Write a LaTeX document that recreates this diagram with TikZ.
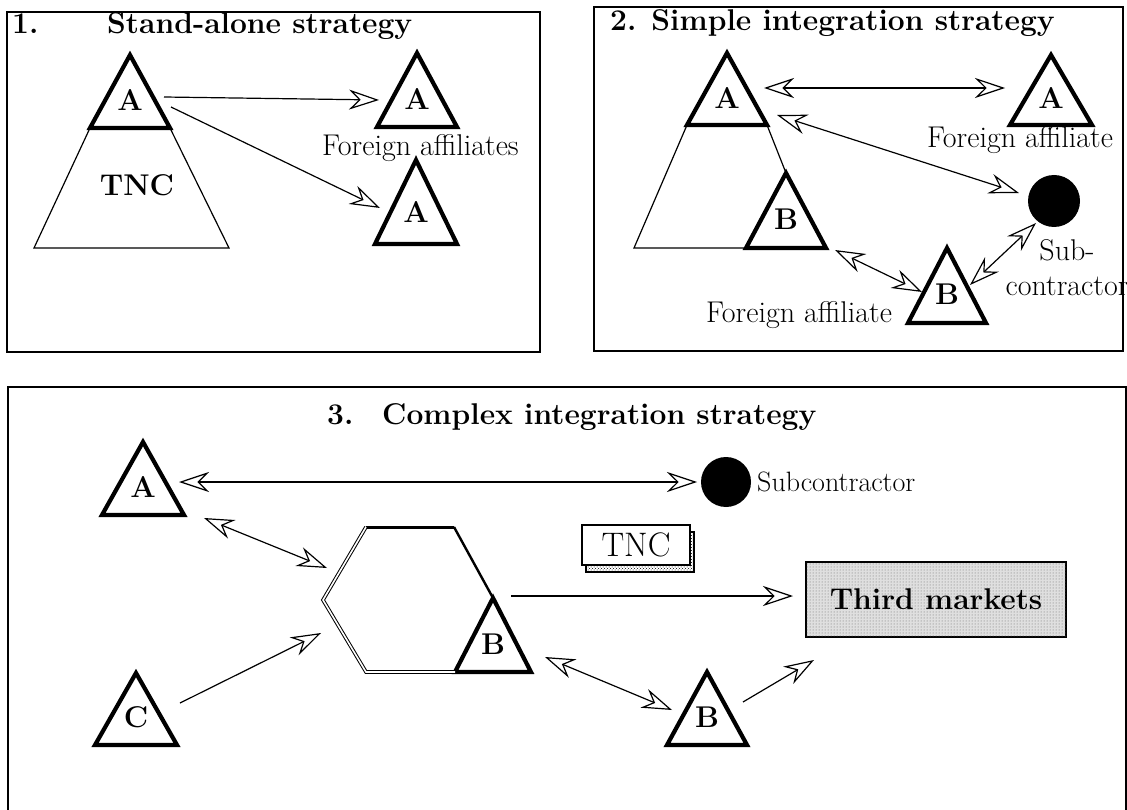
\documentclass[tikz,border=0pt]{standalone}
\usepackage{fontspec}
\usepackage{tikz}
\usetikzlibrary{calc,patterns,arrows.meta}

% triangle with a letter: name, apex x, apex y, half width, height, letter
\newcommand{\tribox}[6]{%
  \draw[trib] (#2,#3) coordinate (#1-t) -- ++(-#4,#5) coordinate (#1-l)
    -- ++(2*#4,0) coordinate (#1-r) -- cycle;
  \node[lab] (#1) at (#2,#3+0.62*#5) {#6};}

\begin{document}
\begin{tikzpicture}[x=1pt,y=-1pt,
    trib/.style={line width=4.2pt, line join=miter},
    lab/.style={font=\fontsize{30}{32}\selectfont\bfseries, inner sep=0pt},
    ttl/.style={font=\fontsize{30}{34}\selectfont\bfseries, inner sep=0pt, anchor=base west},
    txt/.style={font=\fontsize{30}{35}\selectfont, inner sep=0pt},
    hd/.style={line width=1.2pt, -{Stealth[open,length=30pt,width=20pt,inset=10pt]}},
    bihd/.style={line width=1.2pt, {Stealth[open,length=30pt,width=20pt,inset=10pt]}-{Stealth[open,length=30pt,width=20pt,inset=10pt]}},
    frame/.style={line width=1.6pt}]
    \useasboundingbox (0,0) rectangle (1127,810);

    % 1. stand-alone
    \draw[frame] (7,12) rectangle (540,352);
    \node[ttl] (n1) at (12,34) {1.};
    \node[ttl] (t1) at (107,34) {Stand-alone strategy};
    \tribox{pa}{130}{55}{40}{73}{A}
    \draw[line width=1.2pt] (pa-l) -- (34,248) -- (229,248) -- (pa-r);
    \node[lab] (tnc1) at (137,185) {TNC};
    \tribox{fa}{417}{53}{40}{74}{A}
    \tribox{fb}{416}{160}{41}{84}{A}
    \node[txt, anchor=base west] (fl1) at (322,156) {Foreign affiliates};
    \coordinate (s1) at (164,97);  \coordinate (e1) at (379,100);
    \coordinate (s2) at (171,107); \coordinate (e2) at (380,208);
    \draw[hd] (s1) -- (e1);
    \draw[hd] (s2) -- (e2);

    % 2. simple integration
    \draw[frame] (594,7) rectangle (1123,351);
    \node[ttl] (t2) at (610,31) {2. Simple integration strategy};
    \tribox{pb}{727}{53}{40}{72}{A}
    \tribox{qb}{786}{173}{40}{75}{B}
    \draw[line width=1.2pt] (pb-l) -- (634,248) -- (qb-l) (pb-r) -- (qb-t);
    \tribox{ra}{1051}{55}{41}{70}{A}
    \node[txt, anchor=base west] (fl2) at (927,148) {Foreign affiliate};
    \node[circle, fill, minimum size=52pt, inner sep=0pt] (sc2) at (1054,201) {};
    \node[txt, align=center] (sl2) at (1067,268) {Sub-\\contractor};
    \tribox{sb}{947}{248}{39}{75}{B}
    \node[txt, anchor=base west] (fl3) at (706,323) {Foreign affiliate};
    \coordinate (u1) at (764,88);  \coordinate (v1) at (1005,88);
    \coordinate (u2) at (777,115); \coordinate (v2) at (1019,193);
    \coordinate (u3) at (835,250); \coordinate (v3) at (922,292);
    \coordinate (u4) at (1036,223); \coordinate (v4) at (970,285);
    \draw[bihd] (u1) -- (v1);
    \draw[bihd] (u2) -- (v2);
    \draw[bihd] (u3) -- (v3);
    \draw[bihd] (u4) -- (v4);

    % 3. complex integration
    \draw[frame] (8,810) -- (8,387) -- (1126,387) -- (1126,810);
    \node[ttl] (n3) at (327,424) {3.};
    \node[ttl] (t3) at (382,424) {Complex integration strategy};
    \tribox{ua}{143}{442}{41}{73}{A}
    \tribox{uc}{136}{673}{41}{72}{C}
    \tribox{hb}{493}{598}{38}{74}{B}
    \draw[line width=3pt] (366,527) -- (454,527);
    \draw[line width=2.4pt] (454,527) -- (hb-t);
    \draw[double, double distance=1.6pt, line width=1pt] (hb-l) -- (366,672) -- (323,600) -- (366,527);
    \node[circle, fill, minimum size=50pt, inner sep=0pt] (sc3) at (726,482) {};
    \node[txt, anchor=west, font=\fontsize{28}{30}\selectfont] (sl3) at (757,482) {Subcontractor};
    \fill[pattern=crosshatch dots] (586,532) rectangle (694,572);
    \draw[line width=1.2pt] (586,532) rectangle (694,572);
    \node[draw, fill=white, line width=1.2pt, minimum width=108pt, minimum height=40pt,
      inner sep=0pt, font=\fontsize{34}{36}\selectfont] (tnc3) at (636,545) {TNC};
    \node[draw, line width=1.6pt, fill=gray!25, minimum width=260pt, minimum height=75pt,
      inner sep=0pt, lab, postaction={pattern=dots, pattern color=gray!80!black}] (tm) at (936,599.5) {Third markets};
    \tribox{vb}{707}{672}{40}{73}{B}
    \coordinate (w1) at (179,482); \coordinate (x1) at (697,482);
    \coordinate (w2) at (204,518); \coordinate (x2) at (327,568);
    \coordinate (w3) at (180,703); \coordinate (x3) at (321,633);
    \coordinate (w4) at (511,596); \coordinate (x4) at (793,596);
    \coordinate (w5) at (545,657); \coordinate (x5) at (672,710);
    \coordinate (w6) at (743,702); \coordinate (x6) at (814,660);
    \draw[bihd] (w1) -- (x1);
    \draw[bihd] (w2) -- (x2);
    \draw[hd] (w3) -- (x3);
    \draw[hd] (w4) -- (x4);
    \draw[bihd] (w5) -- (x5);
    \draw[hd] (w6) -- (x6);
\end{tikzpicture}
\end{document}
